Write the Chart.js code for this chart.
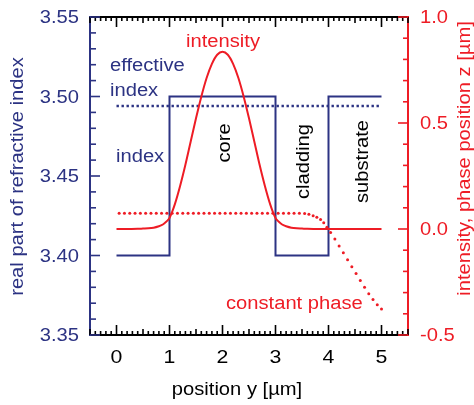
<!DOCTYPE html>
<html lang="en">
<head>
<meta charset="UTF-8">
<title>Slab waveguide - index, intensity and phase</title>
<script src="https://cdn.jsdelivr.net/npm/chart.js@4.4.1/dist/chart.umd.min.js"></script>
<style>
  body { margin: 0; background: #fff; }
</style>
</head>
<body>
<canvas id="myChart" width="474" height="405"></canvas>
<script>
// step profile of the real part of the refractive index
const indexY = [0, 1, 1, 3, 3, 4, 4, 5];
const indexN = [3.40, 3.40, 3.50, 3.50, 3.40, 3.40, 3.50, 3.50];

// effective index of the guided mode
const effY = [0, 5];
const effN = [3.494, 3.494];

// mode intensity (right axis)
const intY = [0, 0.2, 0.4, 0.5, 0.6, 0.7, 0.8, 0.85, 0.9, 0.95, 1.0, 1.05, 1.1, 1.2, 1.3, 1.4, 1.5, 1.6, 1.7, 1.8, 1.9,
              2.0, 2.1, 2.2, 2.3, 2.4, 2.5, 2.6, 2.7, 2.8, 2.9, 2.95, 3.0, 3.05, 3.1, 3.15, 3.2, 3.3, 3.4, 3.5, 3.6, 3.8, 4.0, 4.5, 5.0];
const intI = [0, 0, 0.001, 0.002, 0.003, 0.006, 0.013, 0.018, 0.026, 0.037, 0.052, 0.081, 0.116, 0.203, 0.303, 0.413, 0.522, 0.624, 0.712, 0.779, 0.822,
              0.836, 0.822, 0.779, 0.712, 0.624, 0.522, 0.413, 0.303, 0.203, 0.116, 0.081, 0.052, 0.037, 0.026, 0.018, 0.013, 0.006, 0.003, 0.002, 0.001, 0, 0, 0, 0];

// position z of constant phase (right axis), drawn as dots
const phaseY = [0.05, 0.15, 0.25, 0.35, 0.45, 0.55, 0.65, 0.75, 0.85, 0.95, 1.05, 1.15, 1.25, 1.35, 1.45, 1.55, 1.65, 1.75,
                1.85, 1.95, 2.05, 2.15, 2.25, 2.35, 2.45, 2.55, 2.65, 2.75, 2.85, 2.95, 3.05, 3.15, 3.25, 3.35, 3.45,
                3.55, 3.63, 3.71, 3.78, 3.85, 3.91, 3.97, 4.04, 4.12, 4.2, 4.28, 4.36, 4.44, 4.52, 4.6, 4.68, 4.76, 4.84, 4.92, 5.0];
const phaseZ = [0.074, 0.074, 0.074, 0.074, 0.074, 0.074, 0.074, 0.074, 0.074, 0.074, 0.074, 0.074, 0.074, 0.074, 0.074, 0.074, 0.074, 0.074,
                0.074, 0.074, 0.074, 0.074, 0.074, 0.074, 0.074, 0.074, 0.074, 0.074, 0.074, 0.074, 0.074, 0.074, 0.074, 0.074, 0.074,
                0.073, 0.069, 0.063, 0.056, 0.045, 0.030, 0.008, -0.016, -0.047, -0.080, -0.112, -0.145, -0.178, -0.210, -0.243, -0.275, -0.305, -0.333, -0.357, -0.377];

const xTicks = [0, 1, 2, 3, 4, 5];
const leftTicks = [3.35, 3.40, 3.45, 3.50, 3.55];
const rightTicks = [-0.5, 0.0, 0.5, 1.0];

const navy = '#2c3383';
const red = '#ee1c25';
const FONT = '"Liberation Sans", Arial, sans-serif';

const pts = (xs, ys) => xs.map((x, i) => ({ x: x, y: ys[i] }));

// text is a little wider than normal Arial in the original
function label(ctx, text, x, y, o) {
    ctx.save();
    ctx.translate(x, y);
    if (o.rot) ctx.rotate(o.rot);
    ctx.scale(o.sx || 1.12, 1);
    ctx.font = (o.size || 18) + 'px ' + FONT;
    ctx.fillStyle = o.color || '#000';
    ctx.textAlign = o.align || 'left';
    ctx.textBaseline = 'alphabetic';
    ctx.fillText(text, 0, 0);
    ctx.restore();
}

function tick(ctx, x1, y1, x2, y2, color) {
    ctx.beginPath();
    ctx.moveTo(x1, y1);
    ctx.lineTo(x2, y2);
    ctx.strokeStyle = color;
    ctx.lineWidth = 1.6;
    ctx.stroke();
}

const decorations = {
    id: 'decorations',
    afterDraw(chart) {
        const ctx = chart.ctx;
        const a = chart.chartArea;
        const sx = chart.scales.x, sy = chart.scales.y, sy2 = chart.scales.y2;
        const up = -Math.PI / 2;

        // inward ticks
        for (let i = -5; i <= 55; i++) {
            const px = sx.getPixelForValue(i / 10);
            const len = i % 10 === 0 ? 10 : (i % 5 === 0 ? 6 : 4);
            tick(ctx, px, a.bottom, px, a.bottom - len, '#000');
            tick(ctx, px, a.top, px, a.top + len, '#000');
        }
        for (let i = 335; i <= 355; i++) {
            const py = sy.getPixelForValue(i / 100);
            tick(ctx, a.left, py, a.left + (i % 5 === 0 ? 10 : 6), py, navy);
        }
        for (let i = -5; i <= 10; i++) {
            const py = sy2.getPixelForValue(i / 10);
            tick(ctx, a.right, py, a.right - (i % 5 === 0 ? 10 : 5), py, red);
        }

        // tick labels
        xTicks.forEach(v => label(ctx, String(v), sx.getPixelForValue(v), 363, { align: 'center', size: 19 }));
        leftTicks.forEach(v => label(ctx, v.toFixed(2), 79, sy.getPixelForValue(v) + 6, { align: 'right', color: navy }));
        rightTicks.forEach(v => label(ctx, v.toFixed(1), 420, sy2.getPixelForValue(v) + 6, { color: red }));

        // axis titles
        label(ctx, 'position y [\u00b5m]', 237, 395, { align: 'center' });
        label(ctx, 'real part of refractive index', 22.5, 176.5, { align: 'center', rot: up, color: navy });
        label(ctx, 'intensity, phase position z [\u00b5m]', 469.5, 158.5, { align: 'center', rot: up, color: red });

        // annotations
        label(ctx, 'intensity', 223, 46.5, { align: 'center', color: red });
        label(ctx, 'effective', 110, 71, { color: navy });
        label(ctx, 'index', 110, 96, { color: navy });
        label(ctx, 'index', 116, 162, { color: navy });
        label(ctx, 'constant phase', 226, 309, { color: red });
        label(ctx, 'core', 230, 143, { align: 'center', rot: up });
        label(ctx, 'cladding', 309, 161.5, { align: 'center', rot: up });
        label(ctx, 'substrate', 368, 161.5, { align: 'center', rot: up });
    }
};

const hidden = { display: false };

new Chart(document.getElementById('myChart'), {
    type: 'scatter',
    data: {
        datasets: [
            {
                label: 'constant phase',
                data: pts(phaseY, phaseZ),
                yAxisID: 'y2',
                showLine: false,
                pointRadius: 1.5,
                pointBorderWidth: 0,
                pointBackgroundColor: red
            },
            {
                label: 'intensity',
                data: pts(intY, intI),
                yAxisID: 'y2',
                showLine: true,
                borderColor: red,
                borderWidth: 2,
                pointRadius: 0,
                cubicInterpolationMode: 'monotone'
            },
            {
                label: 'effective index',
                data: pts(effY, effN),
                yAxisID: 'y',
                showLine: true,
                borderColor: navy,
                borderWidth: 2.6,
                borderDash: [2.4, 2.6],
                pointRadius: 0
            },
            {
                label: 'index',
                data: pts(indexY, indexN),
                yAxisID: 'y',
                showLine: true,
                borderColor: navy,
                borderWidth: 2,
                pointRadius: 0,
                tension: 0
            }
        ]
    },
    options: {
        responsive: false,
        animation: false,
        devicePixelRatio: 1,
        events: [],
        layout: { padding: { left: 90, right: 66, top: 17, bottom: 70 } },
        plugins: { legend: hidden, tooltip: { enabled: false } },
        scales: {
            x: {
                type: 'linear', position: 'bottom', min: -0.5, max: 5.5,
                ticks: hidden, grid: hidden, border: { color: '#000', width: 2 },
                afterFit: s => { s.height = 0; }
            },
            xTop: {
                type: 'linear', position: 'top', min: -0.5, max: 5.5, display: true,
                ticks: hidden, grid: hidden, border: { color: '#000', width: 2 },
                afterFit: s => { s.height = 0; }
            },
            y: {
                type: 'linear', position: 'left', min: 3.35, max: 3.55,
                ticks: hidden, grid: hidden, border: { color: navy, width: 2 },
                afterFit: s => { s.width = 0; }
            },
            y2: {
                type: 'linear', position: 'right', min: -0.5, max: 1.0,
                ticks: hidden, grid: hidden, border: { color: red, width: 2 },
                afterFit: s => { s.width = 0; }
            }
        }
    },
    plugins: [decorations]
});
</script>
</body>
</html>
